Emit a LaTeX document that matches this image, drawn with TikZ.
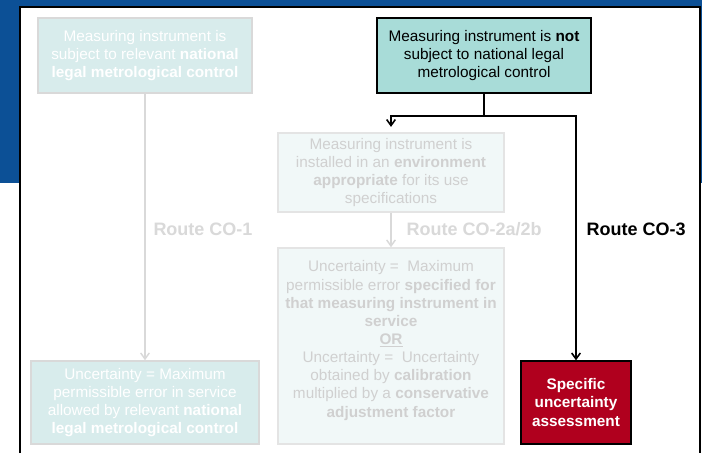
\documentclass[tikz,border=0pt]{standalone}
\usepackage{fontspec}
\setmainfont{Liberation Sans}
\usetikzlibrary{arrows.meta}
\definecolor{slideblue}{RGB}{12,80,150}
\definecolor{routeteal}{RGB}{168,220,216}
\definecolor{fadedteal}{RGB}{216,236,236}
\definecolor{paleteal}{RGB}{241,248,248}
\definecolor{fadedgray}{RGB}{217,217,217}
\definecolor{palegray}{RGB}{208,208,208}
\definecolor{assessred}{RGB}{176,0,30}

\tikzset{
	box/.style={rectangle, align=center, inner sep=2pt, font=\fontsize{11.5}{13.6}\selectfont},
	activebox/.style={box, draw=black, line width=1pt},
	fadedbox/.style={box, draw=fadedgray, line width=1.2pt, fill=fadedteal, text=white},
	palebox/.style={box, draw=fadedgray!70, line width=1.2pt, fill=paleteal, text=palegray},
	routelabel/.style={font=\fontsize{13.5}{16}\selectfont\bfseries},
	tip/.style={-{Straight Barb[length=4.5pt,width=6.5pt]}}
}

\begin{document}
\begin{tikzpicture}[x=0.75pt, y=-0.75pt]

	\useasboundingbox (0,0) rectangle (702,453);

	% Slide background and white panel
	\fill[slideblue] (0,0) rectangle (702,183);
	\fill[white] (20,7) rectangle (700,453);
	\draw[line width=1.5pt] (20,453) -- (20,7) -- (700,7) -- (700,453);

	% Route CO-1 (faded)
	\node[fadedbox, minimum width=160.5pt, minimum height=56.25pt] (subject) at (145,55.5)
		{Measuring instrument is\\ subject to relevant \textbf{national}\\ \textbf{legal metrological control}};
	\node[fadedbox, minimum width=171pt, minimum height=62.25pt] (mpe) at (145,402.5)
		{Uncertainty = Maximum\\ permissible error in service\\ allowed by relevant \textbf{national}\\ \textbf{legal metrological control}};
	\draw[tip, fadedgray, line width=1.1pt] (subject.south) -- (mpe.north);
	\node[routelabel, text=fadedgray] (co1) at (203,229) {Route CO-1};

	% Route CO-2a/2b (faded)
	\node[palebox, minimum width=169.5pt, minimum height=59.25pt] (environment) at (391,172.5)
		{Measuring instrument is\\ installed in an \textbf{environment}\\ \textbf{appropriate} for its use\\ specifications};
	\node[palebox, minimum width=169.5pt, minimum height=147pt] (calibration) at (391,346)
		{Uncertainty =\ \ Maximum\\ permissible error \textbf{specified for}\\ \textbf{that measuring instrument in}\\ \textbf{service}\\ \underline{\textbf{OR}}\\
		Uncertainty =\ \ Uncertainty\\ obtained by \textbf{calibration}\\ multiplied by a \textbf{conservative}\\ \textbf{adjustment factor}\\[-3pt]};
	\draw[tip, fadedgray, line width=1.1pt] (environment.south) -- (calibration.north);
	\node[routelabel, text=fadedgray, anchor=west] (co2) at (402,229) {Route CO-2a/2b};

	% Route CO-3
	\node[activebox, fill=routeteal, minimum width=160.5pt, minimum height=56.25pt] (notsubject) at (484,55.5)
		{Measuring instrument is \textbf{not}\\ subject to national legal\\ metrological control};
	\node[activebox, fill=assessred, text=white, font=\fontsize{11.5}{13.6}\selectfont\bfseries,
		minimum width=82.5pt, minimum height=62.25pt] (specific) at (576,402.5)
		{Specific\\ uncertainty\\ assessment};
	\coordinate (split) at (484,116);
	\draw[line width=1.2pt] (notsubject.south) -- (split);
	\draw[tip, line width=1.2pt, shorten >=4pt] (split) -| (environment.north);
	\draw[tip, line width=1.2pt] (split) -| (specific.north);
	\node[routelabel, anchor=west] (co3) at (582,229) {Route CO-3};

\end{tikzpicture}
\end{document}
